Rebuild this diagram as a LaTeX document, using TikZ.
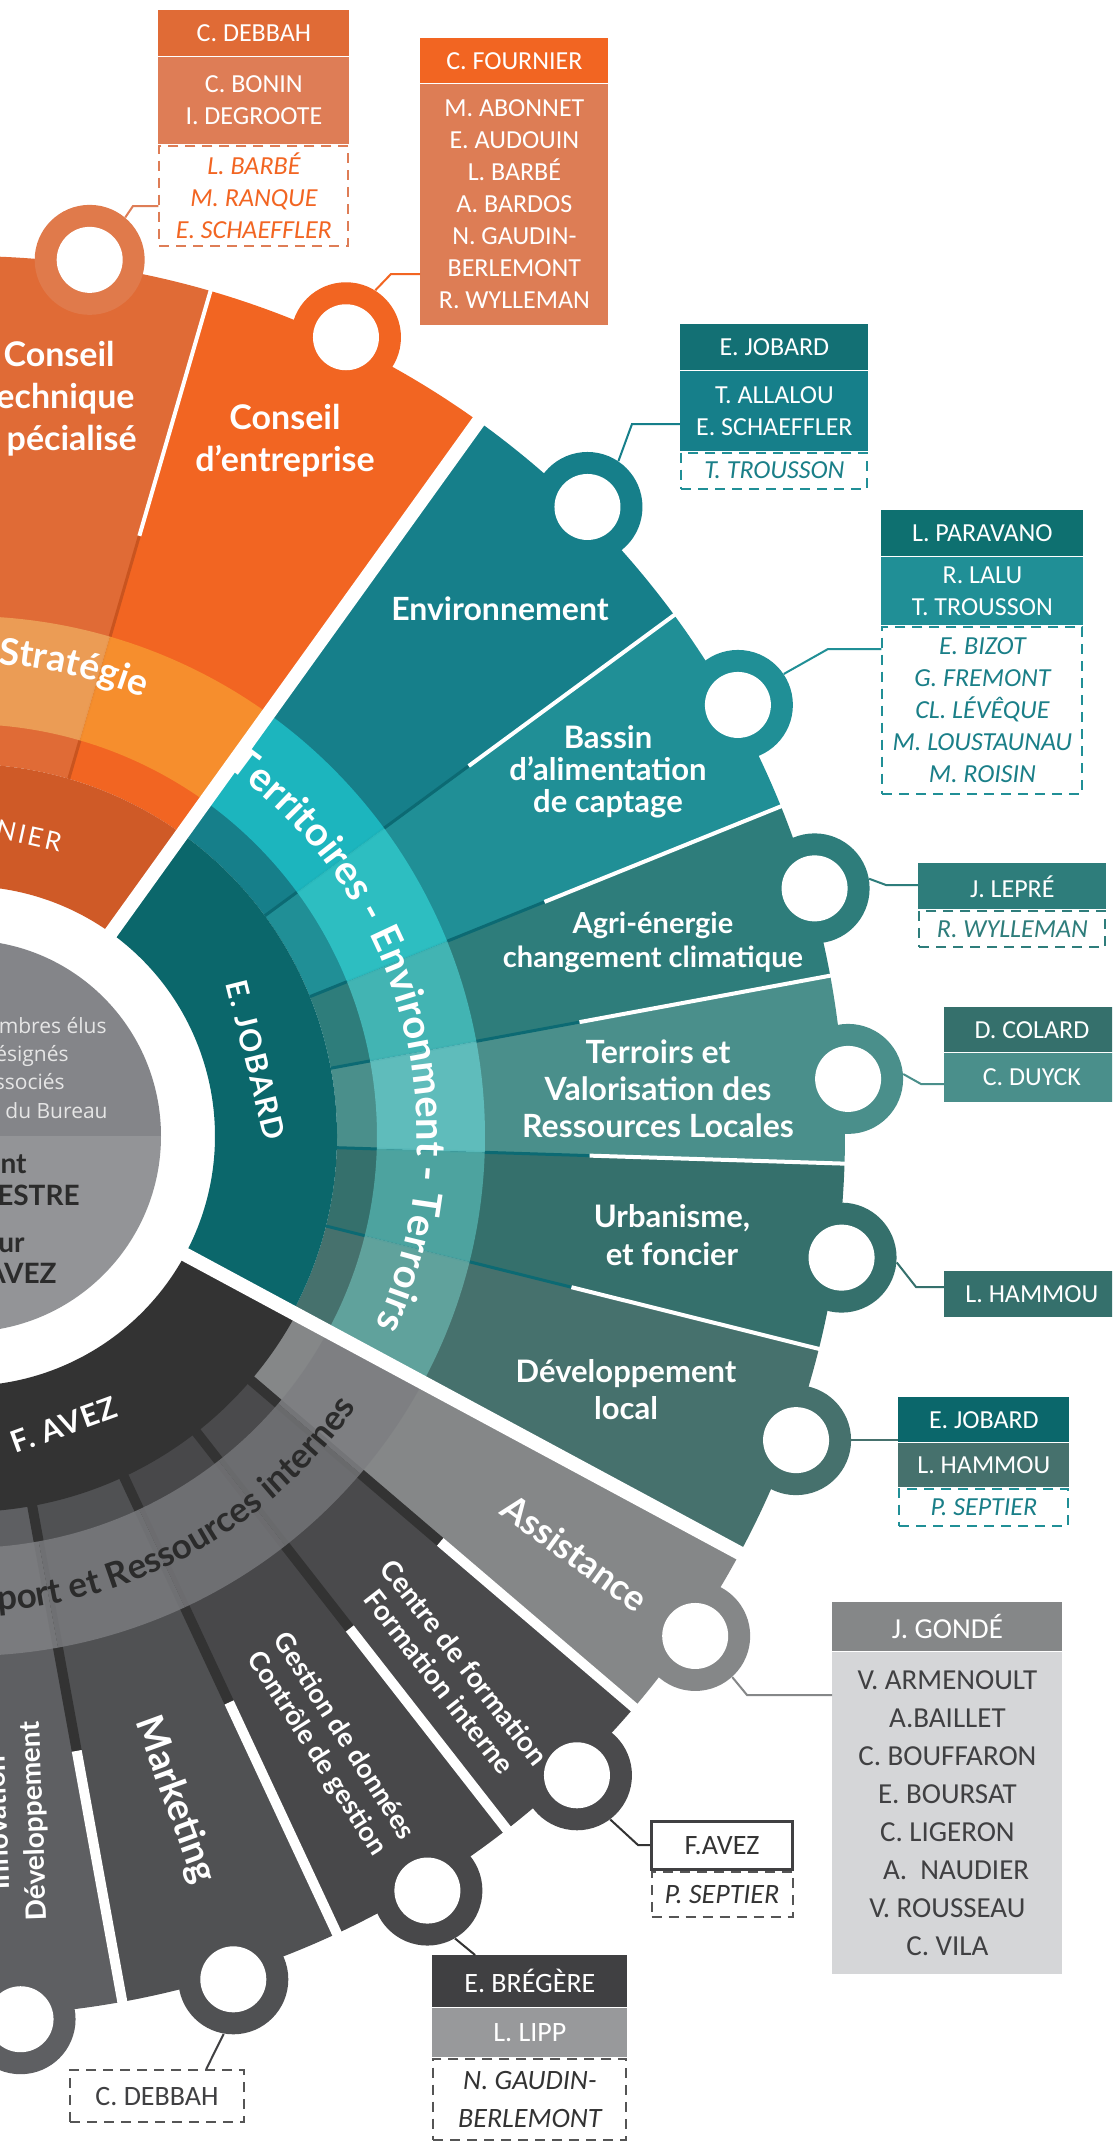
\documentclass[tikz,border=0pt]{standalone}
\usepackage{fontspec}
\setmainfont{Carlito}
\newfontfamily\lblfont{Lato}
\newfontfamily\softfont{Open Sans}
\usetikzlibrary{positioning,calc,decorations.text}

\definecolor{ctOr}{HTML}{E06B36}
\definecolor{ctTab}{HTML}{E07A4B}
\definecolor{ctBand}{HTML}{EDA35A}
\definecolor{ctSep}{HTML}{C9541F}
\definecolor{ctMem}{HTML}{DE7D56}
\definecolor{ceOr}{HTML}{F26522}
\definecolor{ceBand}{HTML}{F7942F}
\definecolor{ceMem}{HTML}{DD7D55}
\definecolor{fournier}{HTML}{CF5A27}
\definecolor{envT}{HTML}{167F8A}
\definecolor{envB}{HTML}{1DBDC6}
\definecolor{envHd}{HTML}{137074}
\definecolor{basT}{HTML}{208F96}
\definecolor{basB}{HTML}{2FC5C8}
\definecolor{basHd}{HTML}{0E7070}
\definecolor{agrT}{HTML}{2E7D7B}
\definecolor{agrB}{HTML}{45BCBB}
\definecolor{terT}{HTML}{4A8F8B}
\definecolor{terB}{HTML}{63C3C2}
\definecolor{urbT}{HTML}{35706C}
\definecolor{urbB}{HTML}{51ABA7}
\definecolor{devT}{HTML}{46716D}
\definecolor{devB}{HTML}{64A9A3}
\definecolor{jobard}{HTML}{0B676B}
\definecolor{sepT}{HTML}{0C6A73}
\definecolor{obsT}{HTML}{1A7F88}
\definecolor{assG}{HTML}{858788}
\definecolor{assB}{HTML}{7E7F82}
\definecolor{cenG}{HTML}{4A4A4C}
\definecolor{cenB}{HTML}{717275}
\definecolor{gesG}{HTML}{48484A}
\definecolor{gesB}{HTML}{747578}
\definecolor{mktG}{HTML}{505153}
\definecolor{mktB}{HTML}{78797C}
\definecolor{innG}{HTML}{5E5F62}
\definecolor{innB}{HTML}{7E7F82}
\definecolor{avez}{HTML}{333333}
\definecolor{diskUp}{HTML}{848589}
\definecolor{diskLow}{HTML}{939497}
\definecolor{diskTxt}{HTML}{E6E6E6}
\definecolor{darkTxt}{HTML}{2B2B2B}
\definecolor{listBg}{HTML}{D5D6D8}
\definecolor{listTxt}{HTML}{404042}
\definecolor{lippG}{HTML}{98999B}
\definecolor{boxLine}{HTML}{555555}

\tikzset{every picture/.style={line width=0.75pt}}
\tikzset{
  seclbl/.style 2 args={text=white, align=center, inner sep=0pt, font=\lblfont\bfseries\fontsize{#1}{#2}\selectfont},
  tabring/.style={circle, inner sep=0pt, minimum size=110pt},
  tabhole/.style={circle, inner sep=0pt, minimum size=66pt, fill=white},
  card/.style={inner sep=0pt, align=center, text=white, font=\fontsize{26}{32}\selectfont},
  dashcard/.style={card, draw, line width=2pt, dash pattern=on 10pt off 7pt, font=\itshape\fontsize{26}{32}\selectfont},
  link/.style={line width=2pt},
}

\begin{document}
\begin{tikzpicture}[x=1pt,y=1pt,yscale=-1,xscale=1]
\useasboundingbox (0,0) rectangle (1112,2141);
\clip (0,0) rectangle (1112,2141);
\fill[white] (0,0) rectangle (1112,2141);

%Sunburst
\begin{scope}[shift={(-35,1136)}]
  \foreach \a/\b/\c in {-100/-73.8/ctOr, -73.8/-54.3/ceOr, -54.3/-36.3/envT, -36.3/-22/basT, -22/-10.5/agrT, -10.5/1.8/terT, 1.8/14/urbT, 14/28.3/devT, 28.3/40.5/assG, 40.5/52/cenG, 52/65/gesG, 65/79.7/mktG, 79.7/100/innG}
    \fill[\c] (\a:372) arc[start angle=\a, end angle=\b, radius=372] -- (\b:880) arc[start angle=\b, end angle=\a, radius=880] -- cycle;
  \foreach \a/\c/\w in {-73.8/ctSep/3pt, -36.3/sepT/3pt, -22/sepT/3pt, -10.5/sepT/3pt, 1.8/sepT/3pt, 14/sepT/3pt, 40.5/avez/10pt, 52/avez/10pt, 65/avez/10pt, 79.7/avez/10pt}
    \draw[\c, line width=\w] (\a:372) -- (\a:625);
  \foreach \a/\b/\c in {-100/-73.8/ctBand, -73.8/-54.3/ceBand, -54.3/-36.3/envB, -36.3/-22/basB, -22/-10.5/agrB, -10.5/1.8/terB, 1.8/14/urbB, 14/28.3/devB, 28.3/40.5/assB, 40.5/52/cenB, 52/65/gesB, 65/79.7/mktB, 79.7/100/innB}
    \fill[\c, fill opacity=0.88] (\a:412) arc[start angle=\a, end angle=\b, radius=412] -- (\b:520) arc[start angle=\b, end angle=\a, radius=520] -- cycle;
  \foreach \a/\w in {-73.8/4pt, -36.3/4pt, -22/4pt, -10.5/4pt, 1.8/4pt, 14/4pt, 40.5/10pt, 52/10pt, 65/10pt, 79.7/10pt}
    \draw[white, line width=\w] (\a:625) -- (\a:885);
  \fill[fournier] (-110:250) arc[start angle=-110, end angle=-54.3, radius=250] -- (-54.3:372) arc[start angle=-54.3, end angle=-110, radius=372] -- cycle;
  \fill[jobard] (-54.3:250) arc[start angle=-54.3, end angle=28.3, radius=250] -- (28.3:372) arc[start angle=28.3, end angle=-54.3, radius=372] -- cycle;
  \fill[avez] (28.3:250) arc[start angle=28.3, end angle=120, radius=250] -- (120:376) arc[start angle=120, end angle=28.3, radius=376] -- cycle;
  \foreach \a in {-54.3, 28.3}
    \draw[white, line width=14pt] (\a:240) -- (\a:960);
  \fill[diskUp] (180:196) arc[start angle=180, end angle=360, radius=196] -- cycle;
  \fill[diskLow] (0:196) arc[start angle=0, end angle=180, radius=196] -- cycle;
  \foreach \a/\c/\n in {-81.9/ctTab/CT, -64.5/ceOr/CE, -45.3/envT/Env, -29.15/basT/Bas, -16.25/agrT/Agr, -3.7/terT/Ter, 7.9/urbT/Urb, 20.1/devT/Dev, 34.4/assG/Ass, 46.25/cenG/Cen, 58.5/gesG/Ges, 72.35/mktG/Mkt, 86.4/innG/Inn}{
    \node[tabring, fill=\c] (tab\n) at (\a:885) {};
    \node[tabhole] at (tab\n) {};
  }
\end{scope}

%Ring texts
\begin{scope}[shift={(-35,1136)}, yscale=-1]
  \path[decorate, decoration={text along path, text align=center,
    text={|\lblfont\bfseries\fontsize{40}{40}\selectfont\color{white}|Territoires - Environment - Terroirs}}]
    (60:452) arc[start angle=60, end angle=-30, radius=452];
  \path[decorate, decoration={text along path, text align=left,
    text={|\lblfont\bfseries\fontsize{37}{37}\selectfont\color{white}|Stratégie}}]
    (86:473) arc[start angle=86, end angle=55, radius=473];
  \path[decorate, decoration={text along path, text align=left,
    text={|\lblfont\bfseries\fontsize{35}{35}\selectfont\color{darkTxt}|port et Ressources internes}}]
    (-86:476) arc[start angle=-86, end angle=-20, radius=476];
\end{scope}

\node[text=white, font=\lblfont\fontsize{26}{26}\selectfont\addfontfeatures{LetterSpace=10}, rotate=-12.5] (fournierLbl) at (29,836) {NIER};
\node[text=white, font=\lblfont\bfseries\fontsize{30}{30}\selectfont\addfontfeatures{LetterSpace=6}, rotate=-76] (jobardLbl) at (256,1060) {E. JOBARD};
\node[text=white, font=\lblfont\bfseries\fontsize{30}{30}\selectfont\addfontfeatures{LetterSpace=4}, rotate=20] (avezLbl) at (64,1425) {F. AVEZ};

%Centre disk
\node[font=\softfont\fontsize{21}{21}\selectfont, text=diskTxt, anchor=base east, inner sep=0pt] (d1) at (107,1033) {mbres élus};
\node[font=\softfont\fontsize{21}{21}\selectfont, text=diskTxt, anchor=base east, inner sep=0pt] (d2) at (69,1061) {ésignés};
\node[font=\softfont\fontsize{21}{21}\selectfont, text=diskTxt, anchor=base east, inner sep=0pt] (d3) at (65,1089) {ssociés};
\node[font=\softfont\fontsize{21}{21}\selectfont, text=diskTxt, anchor=base east, inner sep=0pt] (d4) at (108,1118) {du Bureau};
\node[font=\lblfont\bfseries\fontsize{28}{28}\selectfont, text=darkTxt, anchor=base east, inner sep=0pt] (d5) at (27,1173) {ent};
\node[font=\lblfont\bfseries\fontsize{28}{28}\selectfont, text=darkTxt, anchor=base east, inner sep=0pt] (d6) at (80,1205) {ESTRE};
\node[font=\lblfont\bfseries\fontsize{28}{28}\selectfont, text=darkTxt, anchor=base east, inner sep=0pt] (d7) at (25,1252) {ur};
\node[font=\lblfont\bfseries\fontsize{28}{28}\selectfont, text=darkTxt, anchor=base east, inner sep=0pt] (d8) at (57,1283) {AVEZ};

%Sector labels
\node[seclbl={34}{42}, anchor=base east] (lblCT1) at (115,366) {Conseil};
\node[seclbl={34}{42}, anchor=base east] (lblCT2) at (135,408) {echnique};
\node[seclbl={34}{42}, anchor=base east] (lblCT3) at (137,450) {pécialisé};
\node[seclbl={34}{42}] (lblCE) at (285,441) {Conseil\\d’entreprise};
\node[seclbl={32}{36}] (lblEnv) at (500,609) {Environnement};
\node[seclbl={31}{32}] (lblBas) at (608,772) {Bassin\\d’alimentation\\de captage};
\node[seclbl={29}{34}] (lblAgr) at (653,942) {Agri-énergie\\changement climatique};
\node[seclbl={32}{37}] (lblTer) at (658,1089) {Terroirs et\\Valorisation des\\Ressources Locales};
\node[seclbl={31}{38}] (lblUrb) at (672,1235) {Urbanisme,\\et foncier};
\node[seclbl={31}{37}] (lblDev) at (626,1390) {Développement\\local};
\node[seclbl={36}{40}, rotate=-36] (lblAss) at (575,1553) {Assistance};
\node[seclbl={28}{32}, rotate=-52] (lblCen) at (452,1672) {Centre de formation\\Formation interne};
\node[seclbl={27}{32}, rotate=-57.5] (lblGes) at (330,1745) {Gestion de données\\Contrôle de gestion};
\node[seclbl={38}{40}, rotate=-70] (lblMkt) at (175,1800) {Marketing};
\node[seclbl={28}{36}, rotate=92] (lblInn) at (17,1822) {Innovation\\Développement};

%Conseil technique
\node[card, fill=ctOr, minimum width=191pt, minimum height=46pt, anchor=north west] (ctHead) at (158,10) {C. DEBBAH};
\node[card, fill=ctMem, minimum width=191pt, minimum height=87pt, below=0pt of ctHead] (ctMem) {C. BONIN\\I. DEGROOTE};
\node[dashcard, draw=ctMem, text=ceOr, minimum width=189pt, minimum height=100pt, below=0pt of ctMem] (ctObs) {L. BARBÉ\\M. RANQUE\\E. SCHAEFFLER};
\coordinate (k1) at (133,206);
\draw[link, ctMem] (tabCT.50) -- (k1) -- (k1 -| ctObs.west);

%Conseil d'entreprise
\node[card, fill=ceOr, minimum width=188pt, minimum height=45pt, anchor=north west] (ceHead) at (420,38) {C. FOURNIER};
\node[card, fill=ceMem, minimum width=188pt, minimum height=241pt, below=0pt of ceHead] (ceMem) {M. ABONNET\\E. AUDOUIN\\L. BARBÉ\\A. BARDOS\\N. GAUDIN-\\BERLEMONT\\R. WYLLEMAN};
\coordinate (k2) at (391,274);
\draw[link, ceOr] (tabCE.58) -- (k2) -- (k2 -| ceMem.west);

%Environnement
\node[card, fill=envHd, minimum width=188pt, minimum height=46pt, anchor=north west] (envHead) at (680,324) {E. JOBARD};
\node[card, fill=envT, minimum width=188pt, minimum height=80pt, below=0pt of envHead] (envMem) {T. ALLALOU\\E. SCHAEFFLER};
\node[dashcard, draw=basT, text=obsT, minimum width=186pt, minimum height=36pt, below=0pt of envMem] (envObs) {T. TROUSSON};
\coordinate (k3) at (632,424);
\draw[link, envT] (tabEnv.56) -- (k3) -- (k3 -| envMem.west);

%Bassin
\node[card, fill=basHd, minimum width=202pt, minimum height=46pt, anchor=north west] (basHead) at (881,510) {L. PARAVANO};
\node[card, fill=basT, minimum width=202pt, minimum height=68pt, below=0pt of basHead] (basMem) {R. LALU\\T. TROUSSON};
\node[dashcard, draw=basT, text=obsT, minimum width=200pt, minimum height=167pt, below=0pt of basMem] (basObs) {E. BIZOT\\G. FREMONT\\CL. LÉVÊQUE\\M. LOUSTAUNAU\\M. ROISIN};
\coordinate (k4) at (828,649);
\draw[link, basT] (tabBas.34) -- (k4) -- (k4 -| basObs.west);

%Agri-energie
\node[card, fill=agrT, minimum width=188pt, minimum height=46pt, anchor=north west] (agrHead) at (918,863) {J. LEPRÉ};
\node[dashcard, draw=agrT, text=agrT, minimum width=186pt, minimum height=36pt, below=0pt of agrHead] (agrObs) {R. WYLLEMAN};
\coordinate (k5) at (886,885);
\draw[link, agrT] (tabAgr.10) -- (k5) -- (k5 -| agrHead.west);

%Terroirs
\node[card, fill=urbT, minimum width=175pt, minimum height=45pt, anchor=north west] (terHead) at (944,1007) {D. COLARD};
\node[card, fill=terT, minimum width=175pt, minimum height=49pt, below=0pt of terHead] (terMem) {C. DUYCK};
\coordinate (k6) at (921,1084);
\draw[link, terT] (tabTer.5) -- (k6) -- (k6 -| terMem.west);

%Urbanisme
\node[card, fill=urbT, minimum width=175pt, minimum height=46pt, anchor=north west] (urbHead) at (944,1271) {L. HAMMOU};
\coordinate (k7) at (916,1287);
\draw[link, urbT] (tabUrb.-5) -- (k7) -- (k7 -| urbHead.west);

%Developpement local
\node[card, fill=jobard, minimum width=171pt, minimum height=45pt, anchor=north west] (devHead) at (898,1397) {E. JOBARD};
\node[card, fill=devT, minimum width=171pt, minimum height=44pt, below=0pt of devHead] (devMem) {L. HAMMOU};
\node[dashcard, draw=basT, text=obsT, minimum width=169pt, minimum height=37pt, below=0pt of devMem] (devObs) {P. SEPTIER};
\draw[link, devT] (tabDev.east) -- (tabDev.east -| devMem.west);

%Assistance
\node[card, fill=assG, minimum width=230pt, minimum height=49pt, anchor=north west, font=\fontsize{29}{38}\selectfont] (assHead) at (832,1602) {J. GONDÉ};
\node[card, fill=listBg, text=listTxt, minimum width=230pt, minimum height=322pt, below=0pt of assHead, font=\fontsize{29}{38}\selectfont] (assList) {V. ARMENOULT\\A.BAILLET\\C. BOUFFARON\\E. BOURSAT\\C. LIGERON\\\hspace*{0.6em}A.\ \ NAUDIER\\V. ROUSSEAU\\C. VILA};
\coordinate (k9) at (747,1695);
\draw[link, assG] (tabAss.-48) -- (k9) -- (k9 -| assList.west);

%Centre de formation
\node[card, draw=listTxt, line width=3pt, fill=white, text=avez, minimum width=141pt, minimum height=48pt, anchor=north west, font=\fontsize{28}{34}\selectfont] (cenHead) at (650,1820) {F.AVEZ};
\node[dashcard, draw=boxLine, text=avez, minimum width=141pt, minimum height=45pt, below=0pt of cenHead, font=\itshape\fontsize{28}{34}\selectfont] (cenObs) {P. SEPTIER};
\coordinate (k10) at (638,1845);
\draw[link, avez] (tabCen.-53) -- (k10) -- (k10 -| cenHead.west);

%Gestion de donnees
\node[card, fill=listTxt, minimum width=195pt, minimum height=52pt, anchor=north west, font=\fontsize{28}{34}\selectfont] (gesHead) at (432,1955) {E. BRÉGÈRE};
\node[card, fill=lippG, minimum width=195pt, minimum height=49pt, below=0pt of gesHead, font=\fontsize{28}{34}\selectfont] (gesMem) {L. LIPP};
\node[dashcard, draw=boxLine, text=avez, minimum width=193pt, minimum height=81pt, below=0pt of gesMem, font=\itshape\fontsize{28}{38}\selectfont] (gesObs) {N. GAUDIN-\\BERLEMONT};
\draw[link, avez] (tabGes.-60) -- ($(gesHead.north west)!0.22!(gesHead.north east)$);

%Marketing
\node[card, draw=boxLine, line width=2pt, dash pattern=on 10pt off 7pt, text=listTxt, minimum width=174pt, minimum height=52pt, anchor=north west, font=\fontsize{28}{34}\selectfont] (mktObs) at (69,2069) {C. DEBBAH};
\draw[link, listTxt] (tabMkt.-100) -- ($(mktObs.north west)!0.78!(mktObs.north east)$);

\end{tikzpicture}
\end{document}
